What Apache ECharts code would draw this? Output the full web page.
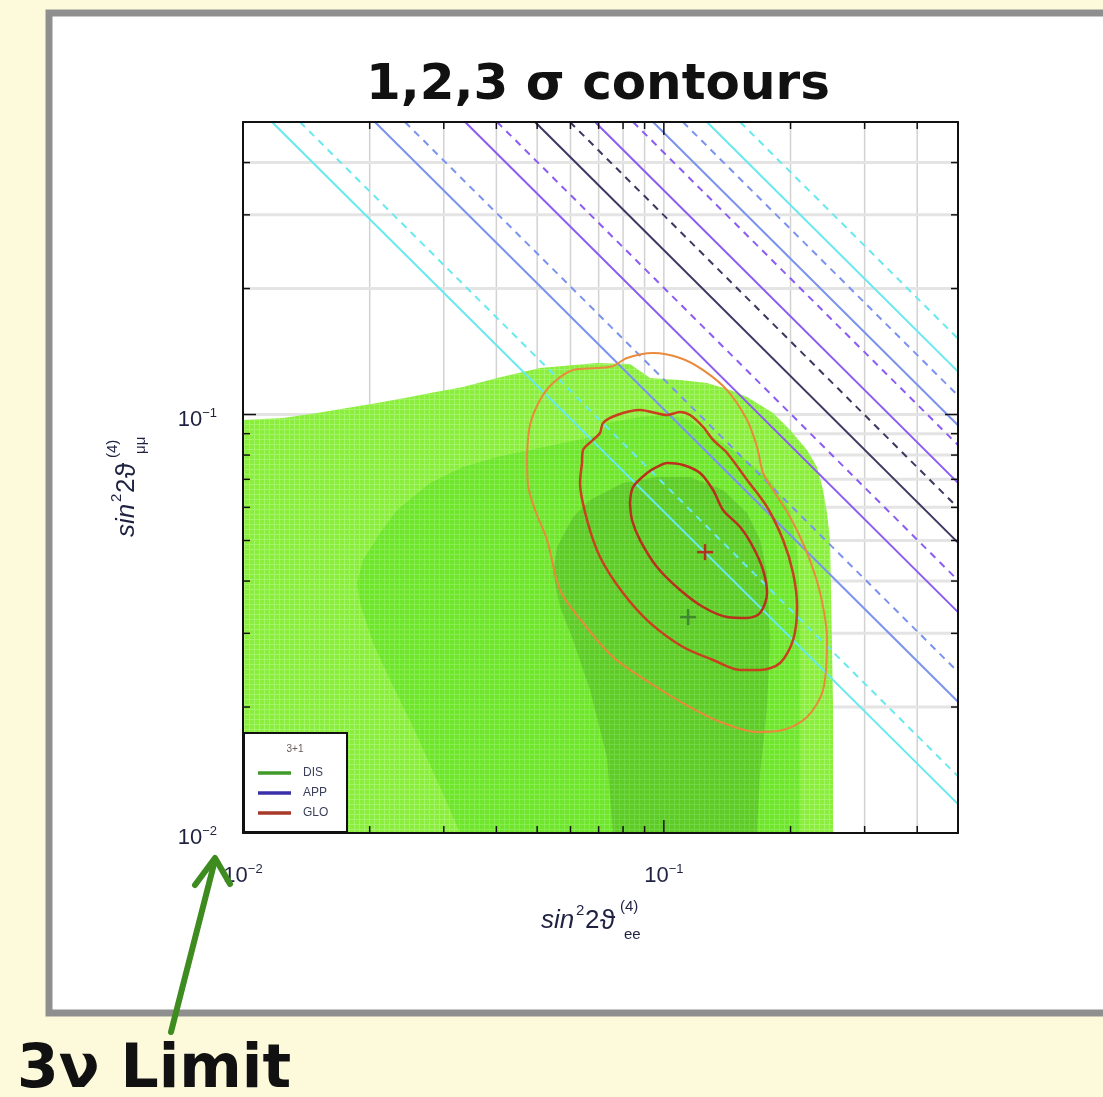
<!DOCTYPE html>
<html>
<head>
<meta charset="utf-8">
<script src="https://cdn.jsdelivr.net/npm/echarts@6/dist/echarts.min.js"></script>
<style>
  html, body { margin: 0; padding: 0; background: #fdfadc; }
  #chart { width: 1103px; height: 1097px; }
</style>
</head>
<body>
<div id="chart"></div>
<script>
// ---- axis range and ticks (both axes logarithmic) ----
const axisMin = 0.01;
const axisMax = 0.5;
const decadeTicks = [0.01, 0.1];
const minorGridValues = [0.02, 0.03, 0.04, 0.05, 0.06, 0.07, 0.08, 0.09, 0.1, 0.2, 0.3, 0.4];

// ---- DIS allowed regions, [sin²2θee, sin²2θμμ] outlines ----
const dis3sigma = [
  [0.0100, 0.0100], [0.0100, 0.0970], [0.01245, 0.0981], [0.01499, 0.1008], [0.01767, 0.1036],
  [0.02082, 0.1065], [0.02494, 0.1101], [0.02782, 0.1126], [0.03333, 0.1163], [0.04015, 0.1223],
  [0.05079, 0.1291], [0.06938, 0.1327], [0.0831, 0.1320], [0.09273, 0.1223], [0.1093, 0.1209],
  [0.1267, 0.1189], [0.1436, 0.1144], [0.1577, 0.1101], [0.1818, 0.1008], [0.1995, 0.0918],
  [0.2189, 0.0823], [0.2312, 0.0749], [0.2389, 0.0660], [0.2442, 0.0582], [0.2483, 0.0501],
  [0.2524, 0.0200], [0.2524, 0.0100]
];
const dis2sigma = [
  [0.03281, 0.0100], [0.02939, 0.01288], [0.02535, 0.01792], [0.02236, 0.02321], [0.02037, 0.02844],
  [0.01897, 0.03545], [0.01866, 0.03957], [0.01929, 0.04491], [0.02116, 0.0521], [0.02323, 0.05914],
  [0.02782, 0.0686], [0.03333, 0.07494], [0.04015, 0.0792], [0.04808, 0.08226], [0.05761, 0.08546],
  [0.07053, 0.0893], [0.07328, 0.09543], [0.08778, 0.0986], [0.1018, 0.0997], [0.1154, 0.0970],
  [0.1309, 0.0884], [0.1518, 0.0800], [0.1788, 0.0697], [0.1995, 0.0591], [0.2073, 0.0474],
  [0.2107, 0.0360], [0.2107, 0.0100]
];
const dis1sigma = [
  [0.07573, 0.0100], [0.07328, 0.01519], [0.06678, 0.02196], [0.06085, 0.02892], [0.05667, 0.03467],
  [0.05454, 0.04181], [0.05575, 0.04824], [0.06085, 0.05691], [0.06678, 0.06248], [0.07998, 0.0686],
  [0.09631, 0.07091], [0.1154, 0.07091], [0.1382, 0.0660], [0.1577, 0.05816], [0.1693, 0.05012],
  [0.1759, 0.04181], [0.1788, 0.02892], [0.1759, 0.0200], [0.1693, 0.01391], [0.1665, 0.0100]
];

// ---- GLO contours (closed) ----
const glo3sigma = [
  [0.0473, 0.0800], [0.04808, 0.0944], [0.05079, 0.1083], [0.05454, 0.1189], [0.06085, 0.1277],
  [0.06938, 0.1291], [0.0758, 0.1306], [0.08174, 0.1365], [0.09423, 0.1403], [0.1093, 0.1365],
  [0.1240, 0.1277], [0.1413, 0.1144], [0.1577, 0.0970], [0.1665, 0.0836], [0.1721, 0.0725],
  [0.1818, 0.0660], [0.1995, 0.0569], [0.2189, 0.0467], [0.2351, 0.03745], [0.2442, 0.02892],
  [0.2389, 0.02196], [0.2189, 0.01893], [0.1920, 0.01762], [0.1665, 0.01743], [0.1382, 0.01832],
  [0.1154, 0.0200], [0.09273, 0.02283], [0.07573, 0.02634], [0.06427, 0.03177], [0.05667, 0.03807],
  [0.05278, 0.05012], [0.04942, 0.05914], [0.04756, 0.0678], [0.0473, 0.0800]
];
const glo2sigma = [
  [0.06392, 0.0766], [0.06427, 0.08226], [0.06788, 0.08695], [0.07053, 0.09033], [0.0717, 0.09543],
  [0.07741, 0.09972], [0.08778, 0.1025], [0.1018, 0.0997], [0.1093, 0.1014], [0.1154, 0.0997],
  [0.1240, 0.09336], [0.1309, 0.08695], [0.1413, 0.08093], [0.1577, 0.06974], [0.1759, 0.06012],
  [0.1920, 0.05012], [0.2028, 0.04181], [0.2073, 0.03467], [0.2028, 0.02892], [0.1889, 0.02548],
  [0.1693, 0.02452], [0.1518, 0.02452], [0.1309, 0.02591], [0.1111, 0.02782], [0.09273, 0.03177],
  [0.07998, 0.03745], [0.07053, 0.04566], [0.06569, 0.05597], [0.06323, 0.0686], [0.06392, 0.0766]
];
const glo1sigma = [
  [0.0831, 0.06145], [0.08447, 0.0671], [0.09122, 0.07248], [0.09631, 0.07494], [0.1018, 0.0766],
  [0.1111, 0.07576], [0.1219, 0.07248], [0.1309, 0.0660], [0.1382, 0.05914], [0.1518, 0.05383],
  [0.1629, 0.04824], [0.1721, 0.0425], [0.1759, 0.03745], [0.1693, 0.03355], [0.1577, 0.03264],
  [0.1413, 0.03282], [0.1240, 0.03467], [0.1093, 0.03807], [0.09631, 0.04321], [0.08778, 0.05012],
  [0.08401, 0.05597], [0.0831, 0.06145]
];

// ---- best-fit points ----
const gloBestFit = [0.1253, 0.0469];
const disBestFit = [0.1142, 0.0328];

// ---- APP bounds: constant products sin²2θee · sin²2θμμ ----
const appSolidProducts  = [0.00586, 0.01029, 0.01686, 0.02471, 0.03432, 0.04713, 0.0633];
const appDashedProducts = [0.00683, 0.01213, 0.02008, 0.02992, 0.04226, 0.0555, 0.0759];

const legendTitle = '3+1';
const legendNames = ['DIS', 'APP', 'GLO'];

// ---- styles ----
const appColors = ['#68e9ef', '#7b93ef', '#8b5cf3', '#3e3660', '#8b5cf3', '#7b93ef', '#68e9ef'];
const legendColors = ['#3f9a2a', '#3a2fa8', '#a83828'];
const labelColor = '#1e2240';
const sansFont = '"Liberation Sans", "DejaVu Sans", sans-serif';

function gridPattern(base, line) {
  const c = document.createElement('canvas');
  c.width = 5; c.height = 5;
  const g = c.getContext('2d');
  g.fillStyle = base; g.fillRect(0, 0, 5, 5);
  g.fillStyle = line; g.fillRect(4, 0, 1, 5); g.fillRect(0, 4, 5, 1);
  return { image: c, repeat: 'repeat' };
}

function regionSeries(points, fill, z) {
  return {
    type: 'custom', z: z, silent: true, clip: true,
    data: [points[0]],
    renderItem: function (params, api) {
      return { type: 'polygon', shape: { points: points.map(p => api.coord(p)) }, style: { fill: fill } };
    }
  };
}

function contourSeries(points, color, width) {
  return {
    type: 'line', z: 5, silent: true, data: points, smooth: 0.3, symbol: 'none',
    lineStyle: { color: color, width: width }
  };
}

function crossSeries(point, color) {
  return {
    type: 'custom', z: 6, silent: true, data: [point],
    renderItem: function (params, api) {
      const c = api.coord([api.value(0), api.value(1)]);
      const st = { stroke: color, lineWidth: 2.5 };
      return { type: 'group', children: [
        { type: 'line', shape: { x1: c[0] - 8, y1: c[1], x2: c[0] + 8, y2: c[1] }, style: st },
        { type: 'line', shape: { x1: c[0], y1: c[1] - 8, x2: c[0], y2: c[1] + 8 }, style: st }
      ] };
    }
  };
}

function powerLabel(v) {
  const e = Math.log10(v);
  const r = Math.round(e);
  if (Math.abs(e - r) > 1e-6) return '';
  return '{b|10}{s|' + (r < 0 ? '\u2212' : '') + Math.abs(r) + '}';
}
const labelRich = {
  b: { fontSize: 22, fontFamily: sansFont, color: labelColor, lineHeight: 26 },
  s: { fontSize: 13, fontFamily: sansFont, color: labelColor, verticalAlign: 'top', lineHeight: 14 }
};

const series = [];

// vertical and horizontal grid lines
series.push({
  type: 'custom', z: 1, silent: true, data: minorGridValues.map(v => [v, axisMin]),
  renderItem: function (params, api) {
    const v = api.value(0);
    const a = api.coord([v, axisMin]), b = api.coord([v, axisMax]);
    return { type: 'line', shape: { x1: a[0], y1: a[1], x2: b[0], y2: b[1] }, style: { stroke: '#d2d2d2', lineWidth: 1.5 } };
  }
});
series.push({
  type: 'custom', z: 1, silent: true, data: minorGridValues.map(v => [axisMin, v]),
  renderItem: function (params, api) {
    const v = api.value(1);
    const a = api.coord([axisMin, v]), b = api.coord([axisMax, v]);
    return { type: 'line', shape: { x1: a[0], y1: a[1], x2: b[0], y2: b[1] }, style: { stroke: '#e4e4e4', lineWidth: 3 } };
  }
});

// DIS filled regions
series.push(regionSeries(dis3sigma, gridPattern('#8cee3c', '#a3f468'), 2));
series.push(regionSeries(dis2sigma, gridPattern('#6fe52c', '#86ec50'), 2));
series.push(regionSeries(dis1sigma, gridPattern('#5fcb26', '#72d544'), 2));

// APP bounds
appSolidProducts.forEach(function (c, i) {
  series.push({
    type: 'line', z: 3, silent: true, symbol: 'none',
    data: [[c / axisMax, axisMax], [axisMax, c / axisMax]],
    lineStyle: { color: appColors[i], width: 2 }
  });
});
appDashedProducts.forEach(function (c, i) {
  series.push({
    type: 'line', z: 3, silent: true, symbol: 'none',
    data: [[c / axisMax, axisMax], [axisMax, c / axisMax]],
    lineStyle: { color: appColors[i], width: 2, type: [7, 6] }
  });
});

// GLO contours and best-fit markers
series.push(contourSeries(glo3sigma, '#e98a3c', 2));
series.push(contourSeries(glo2sigma, '#c9401f', 2.5));
series.push(contourSeries(glo1sigma, '#b9301c', 2.5));
series.push(crossSeries(disBestFit, '#3f8a2e'));
series.push(crossSeries(gloBestFit, '#b3321e'));

// inward ticks on all four sides
series.push({
  type: 'custom', z: 12, silent: true, clip: false, data: minorGridValues.map(v => [v, v]),
  renderItem: function (params, api) {
    const v = api.value(0);
    const len = decadeTicks.indexOf(v) >= 0 ? 13 : 7;
    const b = api.coord([v, axisMin]), t = api.coord([v, axisMax]);
    const l = api.coord([axisMin, v]), r = api.coord([axisMax, v]);
    const st = { stroke: '#111', lineWidth: 1.5 };
    return { type: 'group', children: [
      { type: 'line', shape: { x1: b[0], y1: b[1], x2: b[0], y2: b[1] - len }, style: st },
      { type: 'line', shape: { x1: t[0], y1: t[1], x2: t[0], y2: t[1] + len }, style: st },
      { type: 'line', shape: { x1: l[0], y1: l[1], x2: l[0] + len, y2: l[1] }, style: st },
      { type: 'line', shape: { x1: r[0], y1: r[1], x2: r[0] - len, y2: r[1] }, style: st }
    ] };
  }
});

const axisLine = { show: true, lineStyle: { color: '#111', width: 2 } };
function logAxis(position, showLabels, margin, padding) {
  return {
    type: 'log', logBase: 10, min: axisMin, max: axisMax, position: position, z: 10,
    axisLine: axisLine, axisTick: { show: false }, splitLine: { show: false }, minorTick: { show: false },
    axisLabel: showLabels
      ? { show: true, margin: margin, padding: padding, formatter: powerLabel, rich: labelRich }
      : { show: false }
  };
}

// text pieces for the two axis titles
function axisTitle(x, y, rotation, sub) {
  const f = 'px ' + sansFont;
  return {
    type: 'group', x: x, y: y, rotation: rotation, z: 100,
    children: [
      { type: 'text', x: 0, y: 0, style: { text: 'sin', font: 'italic 26' + f, fill: labelColor, verticalAlign: 'middle' } },
      { type: 'text', x: 35, y: -10, style: { text: '2', font: '15' + f, fill: labelColor, verticalAlign: 'middle' } },
      { type: 'text', x: 44, y: 0, style: { text: '2', font: '26' + f, fill: labelColor, verticalAlign: 'middle' } },
      { type: 'text', x: 59, y: 0, style: { text: '\u03d1', font: '28' + f, fill: labelColor, verticalAlign: 'middle' } },
      { type: 'text', x: 79, y: -14, style: { text: '(4)', font: '15' + f, fill: labelColor, verticalAlign: 'middle' } },
      { type: 'text', x: 83, y: 14, style: { text: sub, font: '15' + f, fill: labelColor, verticalAlign: 'middle' } }
    ]
  };
}

const legendRows = [773, 793, 813];
const graphics = [
  { type: 'rect', z: -10, shape: { x: 49, y: 13, width: 1080, height: 1000 },
    style: { fill: '#ffffff', stroke: '#8f8f8f', lineWidth: 7 } },
  { type: 'text', z: 100, x: 598, y: 86,
    style: { text: '1,2,3 \u03c3 contours', font: 'bold 50px "DejaVu Sans", sans-serif', fill: '#111', align: 'center', verticalAlign: 'middle' } },
  axisTitle(541, 921, 0, 'ee'),
  axisTitle(127, 537, Math.PI / 2, '\u03bc\u03bc'),
  // legend box
  { type: 'rect', z: 100, shape: { x: 244, y: 733, width: 103, height: 99 },
    style: { fill: '#ffffff', stroke: '#111', lineWidth: 2 } },
  { type: 'text', z: 101, x: 295, y: 749,
    style: { text: legendTitle, font: '10px ' + sansFont, fill: '#6a5a5a', align: 'center', verticalAlign: 'middle' } },
  // annotation arrow and note
  { type: 'polyline', z: 100, shape: { points: [[171, 1032], [215, 860]] },
    style: { stroke: '#3e8c1f', lineWidth: 6, lineCap: 'round' } },
  { type: 'polyline', z: 100, shape: { points: [[195, 885], [215, 858], [230, 884]] },
    style: { stroke: '#3e8c1f', lineWidth: 6, lineCap: 'round', lineJoin: 'round', fill: null } },
  { type: 'text', z: 100, x: 17, y: 1071,
    style: { text: '3\u03bd Limit', font: 'bold 60px "DejaVu Sans", sans-serif', fill: '#111', verticalAlign: 'middle' } }
];
legendNames.forEach(function (name, i) {
  graphics.push({ type: 'line', z: 101, shape: { x1: 258, y1: legendRows[i], x2: 291, y2: legendRows[i] },
    style: { stroke: legendColors[i], lineWidth: 3.5 } });
  graphics.push({ type: 'text', z: 101, x: 303, y: legendRows[i],
    style: { text: name, font: '12px ' + sansFont, fill: '#3a3f5a', verticalAlign: 'middle' } });
});

const chart = echarts.init(document.getElementById('chart'), null, { renderer: 'canvas' });
chart.setOption({
  animation: false,
  backgroundColor: '#fdfadc',
  grid: { left: 243, top: 122, width: 715, height: 711 },
  xAxis: [logAxis('bottom', true, 30, [0, 0, 0, 0]), logAxis('top', false)],
  yAxis: [logAxis('left', true, 26, [10, 0, 0, 0]), logAxis('right', false)],
  series: series,
  graphic: { elements: graphics }
});
</script>
</body>
</html>
